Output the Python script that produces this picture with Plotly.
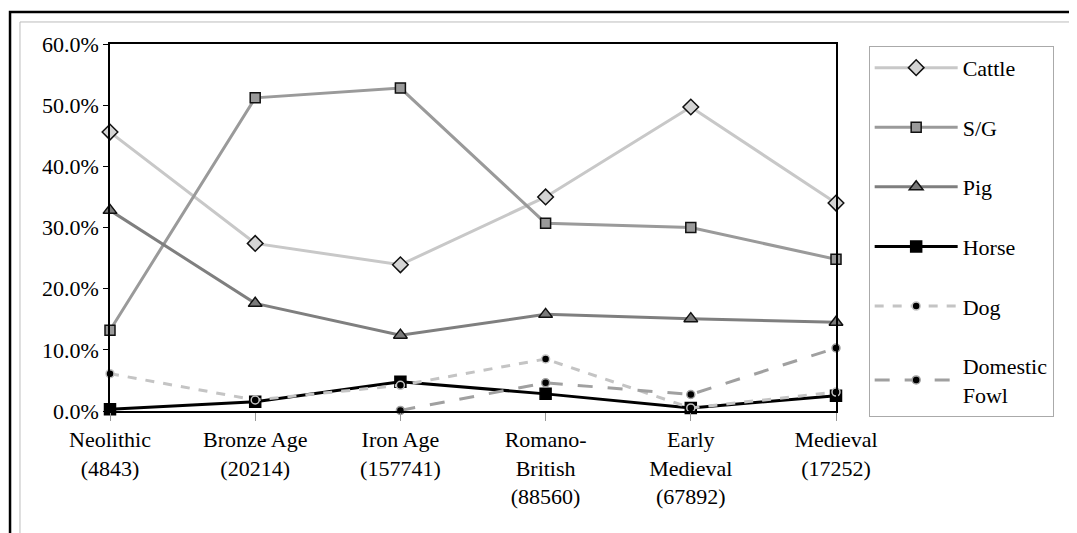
import plotly.graph_objects as go

# --- data (percent of NISP) ---
periods = ["Neolithic<br>(4843)", "Bronze Age<br>(20214)", "Iron Age<br>(157741)",
           "Romano-<br>British<br>(88560)", "Early<br>Medieval<br>(67892)", "Medieval<br>(17252)"]
cattle = [45.6, 27.4, 23.9, 35.0, 49.7, 34.0]
sheep_goat = [13.2, 51.2, 52.8, 30.7, 30.0, 24.8]
pig = [32.8, 17.6, 12.4, 15.8, 15.1, 14.5]
horse = [0.3, 1.5, 4.8, 2.8, 0.5, 2.5]
dog = [6.1, 1.8, 4.2, 8.5, 0.5, 3.1]
fowl = [None, None, 0.1, 4.6, 2.7, 10.3]

FONT = "Liberation Serif"

# name, values, line colour, dash, marker symbol, marker fill, marker outline, marker size
series = [
    ("Cattle", cattle, "#c8c8c8", "solid", "diamond", "#d4d4d4", "#111111", 12),
    ("S/G", sheep_goat, "#9a9a9a", "solid", "square", "#9a9a9a", "#111111", 10),
    ("Pig", pig, "#7f7f7f", "solid", "triangle-up", "#7a7a7a", "#111111", 12),
    ("Horse", horse, "#000000", "solid", "square", "#000000", "#000000", 11),
    ("Dog", dog, "#c4c4c4", "dash", "circle", "#000000", "#c4c4c4", 8),
    ("Domestic<br>Fowl", fowl, "#a0a0a0", "longdash", "circle", "#000000", "#a0a0a0", 8),
]

fig = go.Figure()
for i, (name, vals, lc, dash, sym, fill, edge, size) in enumerate(series):
    fig.add_trace(go.Scatter(
        x=periods, y=vals, name=name, mode="lines+markers",
        line=dict(color=lc, width=3, dash=dash),
        marker=dict(symbol=sym, color=fill, size=size, line=dict(color=edge, width=1.5)),
        cliponaxis=False, legendgroup=str(i), connectgaps=False,
    ))

# the page body adds an 8px offset, so margins are measured from (8, 8)
fig.update_layout(
    width=1077, height=533,
    margin=dict(l=102, r=249, t=36, b=130),
    paper_bgcolor="white", plot_bgcolor="white",
    font=dict(family=FONT, size=22, color="#000000"),
    legend=dict(
        x=1.045, y=0.995, xanchor="left", yanchor="top",
        bgcolor="white", bordercolor="#aaaaaa", borderwidth=1,
        tracegroupgap=28, itemwidth=83, maxheight=700,
        font=dict(family=FONT, size=22),
    ),
    xaxis=dict(
        type="category", range=[0, 5], showgrid=False,
        showline=True, linecolor="#000000", linewidth=1.5, mirror=True,
        ticks="outside", ticklen=8, tickcolor="#999999",
        tickfont=dict(family=FONT, size=22),
    ),
    yaxis=dict(
        range=[0, 60], dtick=10, tickformat=".1f", ticksuffix="%",
        showgrid=False, zeroline=False,
        showline=True, linecolor="#000000", linewidth=1.5, mirror=True,
        ticks="outside", ticklen=5, tickcolor="#000000",
        tickfont=dict(family=FONT, size=22),
    ),
    shapes=[
        # outer black frame
        dict(type="rect", xref="paper", yref="paper",
             x0=-0.1377, x1=1.6, y0=-1.0, y1=1.087,
             line=dict(color="#000000", width=2.5), layer="below"),
        # inner gray frame
        dict(type="rect", xref="paper", yref="paper",
             x0=-0.124, x1=1.6, y0=-1.0, y1=1.06,
             line=dict(color="#bbbbbb", width=1), layer="below"),
    ],
)

fig.write_html("out.html")
